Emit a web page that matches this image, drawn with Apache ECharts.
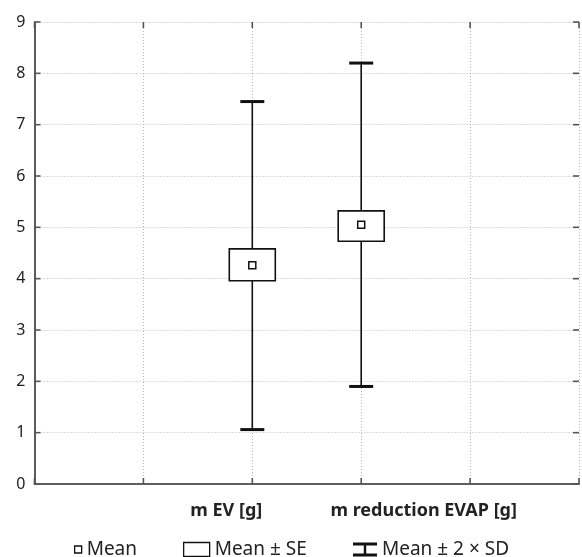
<!DOCTYPE html>
<html><head><meta charset="utf-8">
<script src="https://cdn.jsdelivr.net/npm/echarts@6/dist/echarts.min.js"></script>
<style>html,body{margin:0;padding:0;background:#fff}#c{width:582px;height:557px}</style>
</head><body><div id="c"></div>
<script>
const categories = ['m EV [g]', 'm reduction EVAP [g]'];
const catPos = [2, 3];
const means = [4.26, 5.05];
const seLow = [3.96, 4.73];
const seHigh = [4.58, 5.32];
const sdLow = [1.06, 1.90];
const sdHigh = [7.45, 8.20];
const yTicks = [0, 1, 2, 3, 4, 5, 6, 7, 8, 9];
const xTicks = [0, 1, 2, 3, 4, 5];

const X_MIN = xTicks[0], X_MAX = xTicks[xTicks.length - 1];
const Y_MIN = yTicks[0], Y_MAX = yTicks[yTicks.length - 1];

const boxData = catPos.map((x, i) => [x, seLow[i], seHigh[i], sdLow[i], sdHigh[i]]);
const meanData = catPos.map((x, i) => [x, means[i]]);
// tick marks: [axisFlag (0 = x tick, 1 = y tick), value]
const tickData = xTicks.map(v => [0, v]).concat(yTicks.map(v => [1, v]));

const FONT = 'Noto Sans';
const chart = echarts.init(document.getElementById('c'), null, {renderer: 'canvas'});

function renderBox(params, api) {
  const x = api.value(0);
  const pLo = api.coord([x, api.value(1)]);
  const pHi = api.coord([x, api.value(2)]);
  const halfW = 23;
  return {
    type: 'rect',
    shape: {x: pLo[0] - halfW, y: pHi[1], width: halfW * 2, height: pLo[1] - pHi[1]},
    style: {fill: '#fff', stroke: '#111', lineWidth: 1.6}
  };
}
function renderWhisker(params, api) {
  const x = api.value(0);
  const pLo = api.coord([x, api.value(3)]);
  const pHi = api.coord([x, api.value(4)]);
  const capW = 12;
  return {
    type: 'group',
    children: [
      {type: 'line', shape: {x1: pLo[0], y1: pLo[1], x2: pHi[0], y2: pHi[1]}, style: {stroke: '#111', lineWidth: 1.6}},
      {type: 'line', shape: {x1: pHi[0] - capW, y1: pHi[1], x2: pHi[0] + capW, y2: pHi[1]}, style: {stroke: '#111', lineWidth: 3}},
      {type: 'line', shape: {x1: pLo[0] - capW, y1: pLo[1], x2: pLo[0] + capW, y2: pLo[1]}, style: {stroke: '#111', lineWidth: 3}}
    ]
  };
}
function renderTicks(params, api) {
  const flag = api.value(0), v = api.value(1), L = 6;
  const st = {stroke: '#555', lineWidth: 1.6};
  if (flag === 0) {
    const b = api.coord([v, Y_MIN]), t = api.coord([v, Y_MAX]);
    return {type: 'group', children: [
      {type: 'line', shape: {x1: b[0], y1: b[1], x2: b[0], y2: b[1] - L}, style: st},
      {type: 'line', shape: {x1: t[0], y1: t[1], x2: t[0], y2: t[1] + L}, style: st}
    ]};
  }
  const l = api.coord([X_MIN, v]), r = api.coord([X_MAX, v]);
  return {type: 'group', children: [
    {type: 'line', shape: {x1: l[0], y1: l[1], x2: l[0] + L, y2: l[1]}, style: st},
    {type: 'line', shape: {x1: r[0], y1: r[1], x2: r[0] - L, y2: r[1]}, style: st}
  ]};
}

const axisLineStyle = {color: '#555', width: 1.6};
const gridLine = {show: true, lineStyle: {color: '#b8b8b8', type: [1, 2], width: 1}};
const legendText = {fontFamily: FONT, fontSize: 19, color: '#222'};
const richBase = {fontFamily: FONT, fontSize: 18, fontWeight: 'bold', color: '#222'};

chart.setOption({
  animation: false,
  backgroundColor: '#fff',
  grid: {left: 34.5, top: 22, right: -3, bottom: 73},
  xAxis: [{
    type: 'value', min: X_MIN, max: X_MAX, interval: 1,
    axisLine: {show: true, lineStyle: axisLineStyle},
    axisTick: {show: false},
    splitLine: gridLine,
    axisLabel: {
      margin: 18, fontFamily: FONT, fontSize: 18, fontWeight: 'bold', color: '#222',
      formatter: v => { const i = catPos.indexOf(v); return i >= 0 ? '{c' + i + '|' + categories[i] + '}' : ''; },
      rich: {
        c0: Object.assign({padding: [0, 52, 0, 0]}, richBase),
        c1: Object.assign({padding: [0, 0, 0, 125]}, richBase)
      }
    }
  }, {
    type: 'value', position: 'top', min: X_MIN, max: X_MAX, interval: 1,
    axisLine: {show: true, lineStyle: axisLineStyle},
    axisTick: {show: false}, splitLine: {show: false}, axisLabel: {show: false}
  }],
  yAxis: [{
    type: 'value', min: Y_MIN, max: Y_MAX, interval: 1,
    axisLine: {show: true, lineStyle: axisLineStyle},
    axisTick: {show: false},
    splitLine: gridLine,
    axisLabel: {margin: 9, fontFamily: FONT, fontSize: 16, color: '#222'}
  }, {
    type: 'value', position: 'right', min: Y_MIN, max: Y_MAX, interval: 1,
    axisLine: {show: true, lineStyle: axisLineStyle},
    axisTick: {show: false}, splitLine: {show: false}, axisLabel: {show: false}
  }],
  legend: [{
    data: [{name: 'Mean', icon: 'rect', itemStyle: {color: '#fff', borderColor: '#111', borderWidth: 1.3}}],
    left: 74, top: 540, padding: 0, itemWidth: 7, itemHeight: 7, textStyle: legendText, selectedMode: false
  }, {
    data: [{name: 'Mean ± SE', icon: 'rect', itemStyle: {color: '#fff', borderColor: '#111', borderWidth: 1.3}}],
    left: 183, top: 540, padding: 0, itemWidth: 26, itemHeight: 14, textStyle: legendText, selectedMode: false
  }, {
    data: [{name: 'Mean ± 2 × SD', icon: 'path://M0,0H24V3H0Z M10.8,3H13.2V11H10.8Z M0,11H24V14H0Z', itemStyle: {color: '#111'}}],
    left: 353, top: 540, padding: 0, itemWidth: 24, itemHeight: 14, textStyle: legendText, selectedMode: false
  }],
  series: [{
    name: 'ticks', type: 'custom', renderItem: renderTicks, data: tickData,
    encode: {x: -1, y: -1}, clip: false, silent: true, z: 0
  }, {
    name: 'Mean ± 2 × SD', type: 'custom', renderItem: renderWhisker, data: boxData,
    encode: {x: 0, y: [3, 4]}, itemStyle: {color: '#111'}, z: 1
  }, {
    name: 'Mean ± SE', type: 'custom', renderItem: renderBox, data: boxData,
    encode: {x: 0, y: [1, 2]}, itemStyle: {color: '#fff', borderColor: '#111'}, z: 2
  }, {
    name: 'Mean', type: 'scatter', data: meanData, symbol: 'rect', symbolSize: 7,
    itemStyle: {color: '#fff', borderColor: '#111', borderWidth: 1.5, opacity: 1}, z: 3
  }]
});
</script></body></html>
